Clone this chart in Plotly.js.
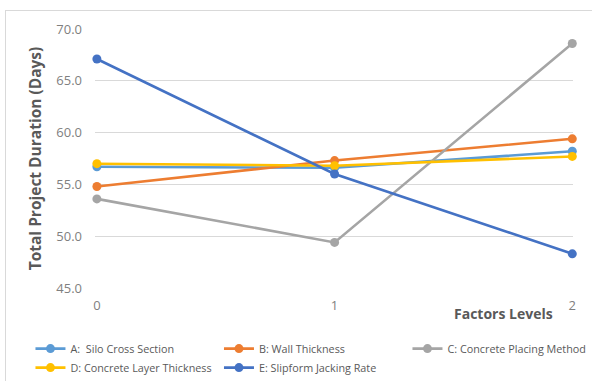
<!DOCTYPE html>
<html>
<head>
<meta charset="utf-8">
<script src="https://cdn.plot.ly/plotly-3.0.1.min.js"></script>
<style>
  html, body { margin: 0; padding: 0; background: #fff; }
  #wrap { position: relative; width: 592px; height: 381px; overflow: hidden; }
  #chart { width: 592px; height: 381px; }
  #frame { position: absolute; left: 5px; top: 10px; width: 620px; height: 400px;
           border: 1px solid #d9d9d9; pointer-events: none; }
</style>
</head>
<body>
<div id="wrap">
  <div id="chart"></div>
  <div id="frame"></div>
</div>
<script>
// Factor levels on the x axis
const levels = [0, 1, 2];
const tickLabels = ['0', '1', '2'];

// Total project duration (days) per factor at each level
const seriesNames = [
  'A:  Silo Cross Section',
  'B: Wall Thickness',
  'C: Concrete Placing Method',
  'D: Concrete Layer Thickness',
  'E: Slipform Jacking Rate'
];
const siloCrossSection = [56.7, 56.6, 58.2];
const wallThickness = [54.8, 57.3, 59.4];
const concretePlacingMethod = [53.6, 49.4, 68.6];
const concreteLayerThickness = [57.0, 56.8, 57.7];
const slipformJackingRate = [67.1, 56.0, 48.3];

const seriesValues = [siloCrossSection, wallThickness, concretePlacingMethod,
                      concreteLayerThickness, slipformJackingRate];
const seriesColors = ['#5B9BD5', '#ED7D31', '#A5A5A5', '#FFC000', '#4472C4'];

const traces = seriesValues.map((vals, i) => ({
  x: levels,
  y: vals,
  name: seriesNames[i],
  type: 'scatter',
  mode: 'lines+markers',
  line: { color: seriesColors[i], width: 2.6 },
  marker: { color: seriesColors[i], size: 9 },
  cliponaxis: false
}));

const font = "'Open Sans', 'DejaVu Sans', sans-serif";

const layout = {
  width: 592,
  height: 381,
  margin: { l: 95, r: 19, t: 29, b: 93, autoexpand: false },
  paper_bgcolor: '#ffffff',
  plot_bgcolor: '#ffffff',
  font: { family: font, color: '#595959' },
  showlegend: true,
  // Legend sits below and left of the plot area so it can span the full width
  legend: {
    orientation: 'h',
    xref: 'paper', yref: 'paper',
    x: -0.135, y: -0.178,
    xanchor: 'left', yanchor: 'top',
    entrywidth: 143.5, entrywidthmode: 'pixels',
    tracegroupgap: 0,
    itemwidth: 30,
    font: { family: font, size: 10.8, color: '#595959' },
    bgcolor: 'rgba(0,0,0,0)'
  },
  xaxis: {
    range: [-0.008, 2.003],
    tickvals: levels,
    ticktext: tickLabels,
    showgrid: false,
    zeroline: false,
    showline: false,
    ticks: '',
    ticklen: 0,
    ticklabelstandoff: 8,
    tickfont: { family: font, size: 13, color: '#7f7f7f' },
    automargin: false
  },
  yaxis: {
    range: [45, 70],
    tick0: 45,
    dtick: 5,
    tickformat: '.1f',
    showgrid: true,
    gridcolor: '#d9d9d9',
    gridwidth: 1,
    zeroline: false,
    showline: false,
    ticks: '',
    ticklabelstandoff: 12,
    tickfont: { family: font, size: 13, color: '#7f7f7f' },
    title: {
      text: 'Total Project Duration (Days)',
      font: { family: font, size: 15.5, color: '#595959', weight: 'bold' },
      standoff: 10
    },
    automargin: false
  },
  annotations: [{
    text: '<b>Factors Levels</b>',
    xref: 'paper', yref: 'paper',
    x: 0.963, y: -0.055,
    xanchor: 'right', yanchor: 'top',
    showarrow: false,
    font: { family: font, size: 14, color: '#595959' }
  }]
};

Plotly.newPlot('chart', traces, layout, { displayModeBar: false, staticPlot: true });
</script>
</body>
</html>
